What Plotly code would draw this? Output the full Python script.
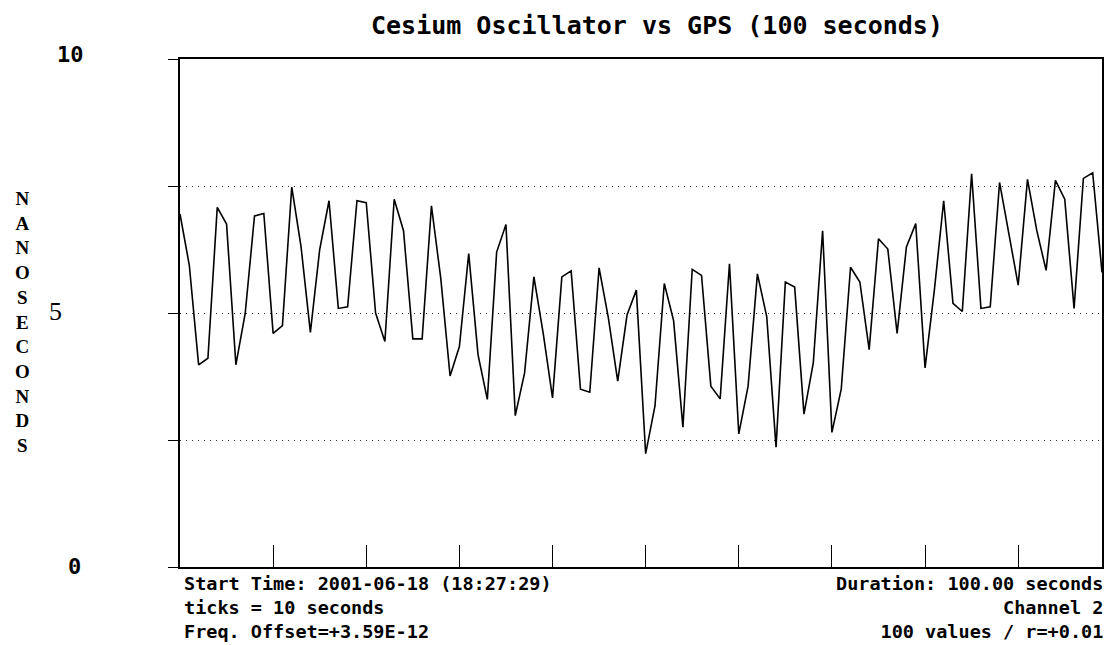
import plotly.graph_objects as go

# ---- data ----
seconds = list(range(100))
nanoseconds = [
    6.95, 5.94, 3.98, 4.11, 7.08, 6.75, 3.98, 4.99, 6.91, 6.96,
    4.60, 4.75, 7.48, 6.30, 4.62, 6.25, 7.21, 5.09, 5.12, 7.21,
    7.17, 5.00, 4.44, 7.24, 6.62, 4.49, 4.49, 7.11, 5.68, 3.76,
    4.34, 6.17, 4.18, 3.30, 6.20, 6.74, 2.98, 3.82, 5.71, 4.60,
    3.33, 5.71, 5.83, 3.50, 3.44, 5.89, 4.90, 3.66, 4.96, 5.45,
    2.23, 3.17, 5.58, 4.85, 2.75, 5.86, 5.74, 3.56, 3.31, 5.97,
    2.62, 3.56, 5.77, 4.93, 2.36, 5.61, 5.51, 3.01, 4.02, 6.62,
    2.65, 3.50, 5.90, 5.61, 4.28, 6.46, 6.26, 4.60, 6.30, 6.76,
    3.92, 5.45, 7.21, 5.19, 5.03, 7.74, 5.09, 5.12, 7.57, 6.59,
    5.55, 7.63, 6.62, 5.84, 7.61, 7.24, 5.09, 7.65, 7.76, 5.80,
]
x_ticks = [10, 20, 30, 40, 50, 60, 70, 80, 90]
y_ticks = [0, 2.5, 5, 7.5, 10]
title_text = "Cesium Oscillator vs GPS (100 seconds)"
y_label = "NANOSECONDS"
left_notes = ["Start Time: 2001-06-18 (18:27:29)", "ticks = 10 seconds", "Freq. Offset=+3.59E-12"]
right_notes = ["Duration: 100.00 seconds", "Channel 2", "100 values / r=+0.01"]

# ---- layout helpers (pixel -> paper) ----
W, H = 1111, 645
L, R, T, B = 180, 1104, 59, 567


def px(x):
    return (x - L) / (R - L)


def py(y):
    return (B - y) / (B - T)


MONO = "DejaVu Sans Mono"
SERIF = "Liberation Serif"

fig = go.Figure()
fig.add_trace(go.Scatter(
    x=seconds, y=nanoseconds, mode="lines",
    line=dict(color="black", width=1.6), hoverinfo="skip", showlegend=False,
))

ann = []
ann.append(dict(text="<b>" + title_text + "</b>", x=px(658), y=py(26), xref="paper", yref="paper",
                xanchor="center", yanchor="middle", showarrow=False,
                font=dict(family=MONO, size=25, color="black")))
ann.append(dict(text="<b>" + "<br>".join(y_label) + "</b>", x=px(22.5), y=py(322), xref="paper", yref="paper",
                xanchor="center", yanchor="middle", showarrow=False, align="center",
                font=dict(family=SERIF, size=19, color="black")))
ann.append(dict(text="<b>10</b>", x=px(86), y=py(54), xref="paper", yref="paper",
                xanchor="right", yanchor="middle", showarrow=False,
                font=dict(family=MONO, size=22, color="black")))
ann.append(dict(text="<b>0</b>", x=px(83), y=py(566), xref="paper", yref="paper",
                xanchor="right", yanchor="middle", showarrow=False,
                font=dict(family=MONO, size=22, color="black")))
ann.append(dict(text="5", x=px(64), y=py(311), xref="paper", yref="paper",
                xanchor="right", yanchor="middle", showarrow=False,
                font=dict(family=SERIF, size=26, color="black")))
ann.append(dict(text="<br>".join("<b>" + t + "</b>" for t in left_notes),
                x=px(182), y=py(571), xref="paper", yref="paper",
                xanchor="left", yanchor="top", showarrow=False, align="left",
                font=dict(family=MONO, size=18.5, color="black")))
ann.append(dict(text="<br>".join("<b>" + t + "</b>" for t in right_notes),
                x=px(1107), y=py(571), xref="paper", yref="paper",
                xanchor="right", yanchor="top", showarrow=False, align="right",
                font=dict(family=MONO, size=18.5, color="black")))

fig.update_layout(
    width=W, height=H,
    margin=dict(l=L, r=W - R, t=T, b=H - B, pad=0),
    paper_bgcolor="white", plot_bgcolor="white",
    annotations=ann,
    xaxis=dict(range=[0, 99], tickvals=x_ticks, showticklabels=False,
               ticks="inside", ticklen=22, tickwidth=1.2, tickcolor="black",
               showgrid=False, zeroline=False,
               showline=True, linecolor="black", linewidth=1.5, mirror=True),
    yaxis=dict(range=[0, 10], tickvals=y_ticks, showticklabels=False,
               ticks="outside", ticklen=10, tickwidth=1.2, tickcolor="black",
               showgrid=True, gridcolor="#333", gridwidth=1, griddash="1px,5px",
               zeroline=False,
               showline=True, linecolor="black", linewidth=1.5, mirror=True),
)

fig.write_html("out.html", config={"displayModeBar": False},
               post_script="document.body.style.margin='0';document.body.style.overflow='hidden';")
